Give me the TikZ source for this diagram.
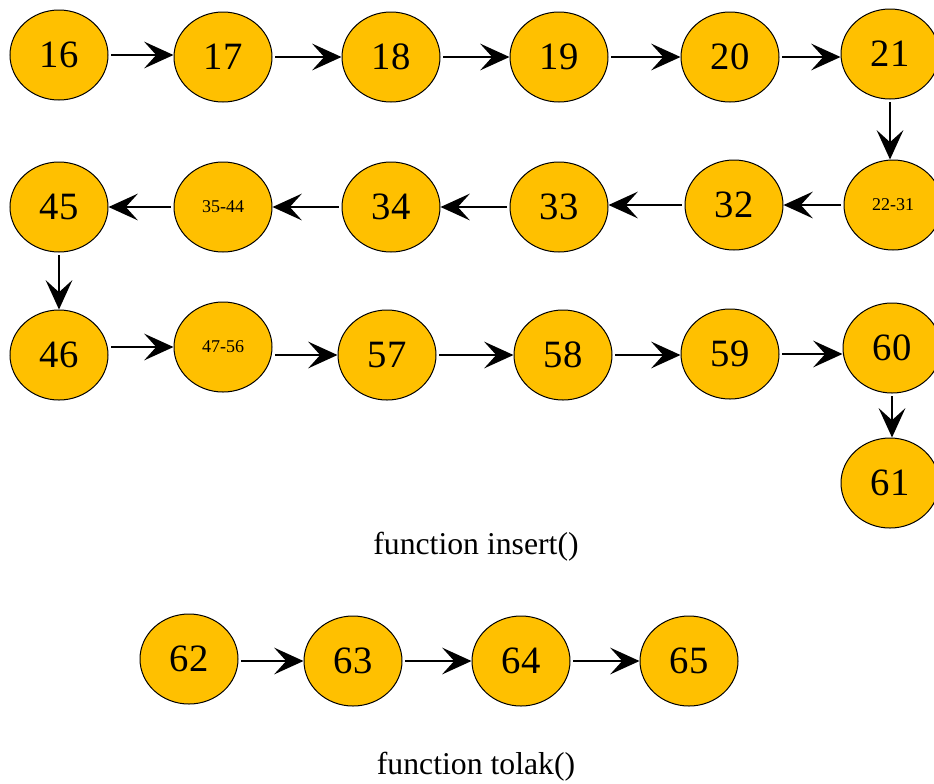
\documentclass[tikz,border=0pt]{standalone}
\usepackage{fontspec}
\setmainfont{Liberation Serif}
\usetikzlibrary{shapes.geometric,arrows.meta}
\definecolor{nodefill}{HTML}{FFC000}
\tikzset{
  nd/.style={ellipse, draw=black, line width=0.75pt, fill=nodefill, minimum width=73.5pt, minimum height=67.5pt, inner sep=0pt, font=\rmfamily\fontsize{29}{31}\selectfont},
  ndsmall/.style={nd, font=\rmfamily\fontsize{13.5}{15}\selectfont},
  arr/.style={line width=1.8pt, -{Stealth[length=22pt, width=20pt, inset=9pt]}, shorten <=2pt},
  caption/.style={font=\rmfamily\fontsize{23.8}{26}\selectfont}
}
\begin{document}
\begin{tikzpicture}[x=0.75pt,y=-0.75pt]
\useasboundingbox (0,0) rectangle (934,783);
\clip (0,0) rectangle (934,783);
\fill[white] (0,0) rectangle (934,783);
% row 1
\node[nd] (n16) at (59,55) {16};
\node[nd] (n17) at (223,57) {17};
\node[nd] (n18) at (391,57) {18};
\node[nd] (n19) at (559,57) {19};
\node[nd] (n20) at (730,57) {20};
\node[nd] (n21) at (890,54) {21};
% row 2
\node[nd] (n45) at (59,207) {45};
\node[ndsmall] (n3544) at (223,207) {35-44};
\node[nd] (n34) at (391,207) {34};
\node[nd] (n33) at (559,207) {33};
\node[nd] (n32) at (734,205) {32};
\node[ndsmall] (n2231) at (893,205) {22-31};
% row 3
\node[nd] (n46) at (59,355) {46};
\node[ndsmall] (n4756) at (223,347) {47-56};
\node[nd] (n57) at (387,355) {57};
\node[nd] (n58) at (563,355) {58};
\node[nd] (n59) at (730,354) {59};
\node[nd] (n60) at (892,348) {60};
\node[nd] (n61) at (890,483) {61};
% row 4
\node[nd] (n62) at (189,659) {62};
\node[nd] (n63) at (353,661) {63};
\node[nd] (n64) at (521,661) {64};
\node[nd] (n65) at (689,661) {65};
% captions
\node[caption] (cap1) at (476,547) {function insert()};
\node[caption] (cap2) at (476,767) {function tolak()};
% arrows row 1
\draw[arr] (n16.east) -- (n16.east -| n17.west);
\draw[arr] (n17.east) -- (n18.west);
\draw[arr] (n18.east) -- (n19.west);
\draw[arr] (n19.east) -- (n20.west);
\draw[arr] (n20.east) -- (n20.east -| n21.west);
\draw[arr] (n21.south) -- (n21.south |- n2231.north);
% arrows row 2
\draw[arr] (n2231.west) -- (n2231.west -| n32.east);
\draw[arr] (n32.west) -- (n32.west -| n33.east);
\draw[arr] (n33.west) -- (n34.east);
\draw[arr] (n34.west) -- (n3544.east);
\draw[arr] (n3544.west) -- (n45.east);
\draw[arr] (n45.south) -- (n45.south |- n46.north);
% arrows row 3
\draw[arr] (n46.east |- n4756.west) -- (n4756.west);
\draw[arr] (n4756.east |- n57.west) -- (n57.west);
\draw[arr] (n57.east) -- (n57.east -| n58.west);
\draw[arr] (n58.east) -- (n58.east -| n59.west);
\draw[arr] (n59.east) -- (n59.east -| n60.west);
\draw[arr] (n60.south) -- (n60.south |- n61.north);
% arrows row 4
\draw[arr] (n62.east |- n63.west) -- (n63.west);
\draw[arr] (n63.east) -- (n64.west);
\draw[arr] (n64.east) -- (n65.west);
\end{tikzpicture}
\end{document}
